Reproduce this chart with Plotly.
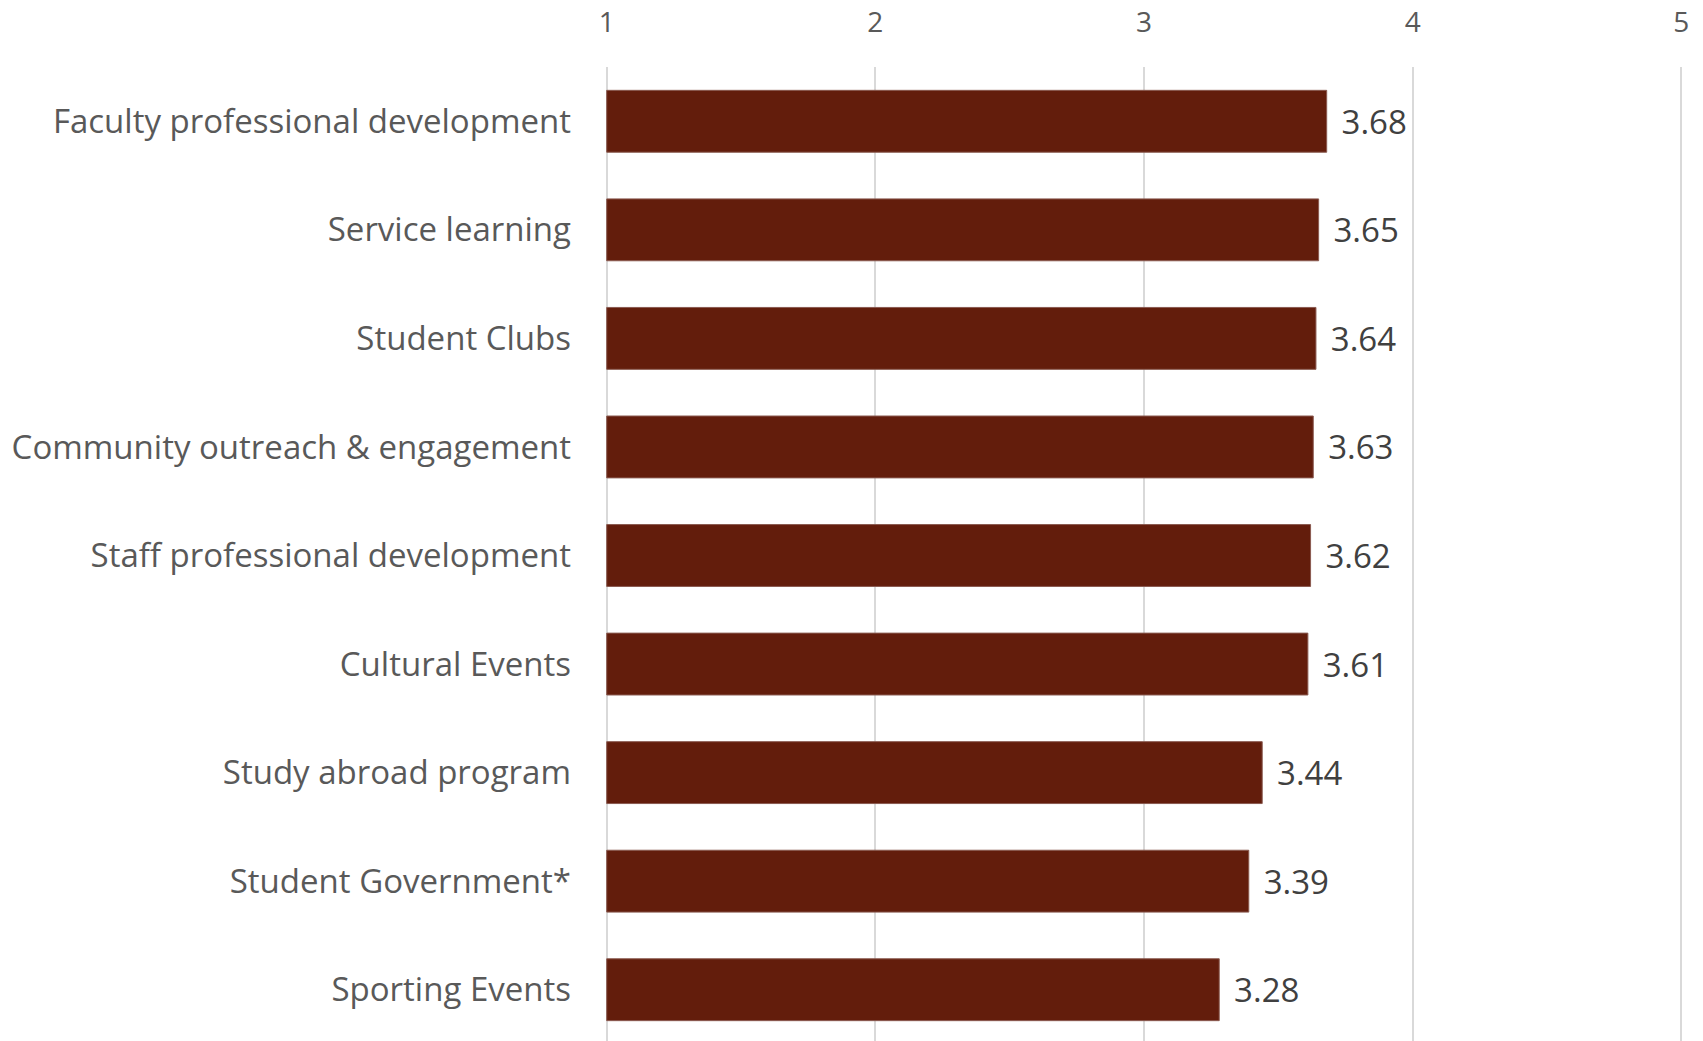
import plotly.graph_objects as go

categories = [
    "Faculty professional development",
    "Service learning",
    "Student Clubs",
    "Community outreach & engagement",
    "Staff professional development",
    "Cultural Events",
    "Study abroad program",
    "Student Government*",
    "Sporting Events",
]
values = [3.68, 3.65, 3.64, 3.63, 3.62, 3.61, 3.44, 3.39, 3.28]
x_ticks = [1, 2, 3, 4, 5]

BAR = "#631D0C"
FONT = "Open Sans"

fig = go.Figure(
    go.Bar(
        x=[v - 1 for v in values],
        base=1,
        y=categories,
        orientation="h",
        marker=dict(color=BAR, line=dict(color="#8a5a50", width=1)),
        text=[f"\u00a0\u200a{v:.2f}" for v in values],
        textposition="outside",
        textfont=dict(family=FONT, size=33, color="#404040"),
        cliponaxis=False,
        width=0.57,
    )
)

fig.update_layout(
    width=1703,
    height=1041,
    paper_bgcolor="white",
    plot_bgcolor="white",
    margin=dict(l=596, r=27, t=59, b=5),
    showlegend=False,
    font=dict(family=FONT, color="#595959"),
)
fig.update_xaxes(
    range=[0.99, 5.01],
    side="top",
    tickvals=x_ticks,
    ticktext=[str(t) for t in x_ticks],
    tickfont=dict(family=FONT, size=28, color="#595959"),
    showgrid=True,
    gridcolor="#D9D9D9",
    gridwidth=1.5,
    zeroline=False,
    showline=False,
    ticks="",
    ticklabelstandoff=28,
    automargin=False,
)
fig.update_yaxes(
    autorange="reversed",
    tickfont=dict(family=FONT, size=33, color="#595959"),
    showgrid=False,
    showline=False,
    ticks="",
    ticklabelstandoff=32,
    automargin=False,
)

fig.write_html("out.html")
